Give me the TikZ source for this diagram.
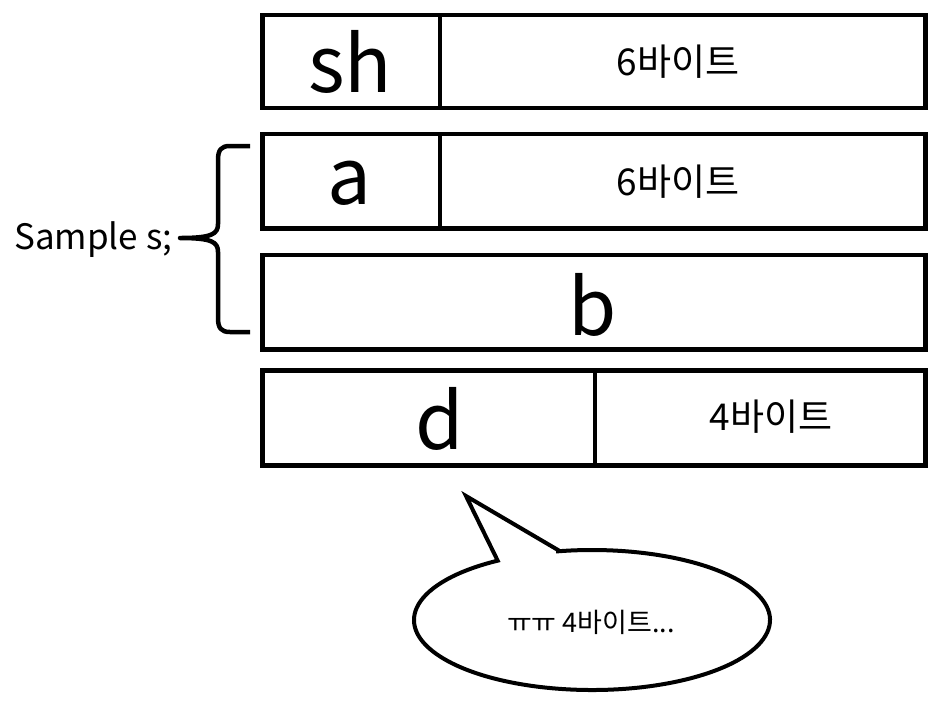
\documentclass[tikz,border=0pt]{standalone}
\usepackage{fontspec}
\setmainfont{Noto Sans CJK KR}
\begin{document}
\begin{tikzpicture}[x=1pt,y=-1pt,
  cell/.style={draw, line width=4.5pt, rectangle, inner sep=0pt, minimum height=#1},
  cell/.default=94pt,
  big/.style={font=\fontsize{78}{80}\selectfont, anchor=base, inner sep=0pt},
  kor/.style={font=\fontsize{37}{40}\selectfont, anchor=center, inner sep=0pt},
  small/.style={font=\fontsize{27}{30}\selectfont, anchor=center, inner sep=0pt},
  lbl/.style={font=\fontsize{35}{38}\selectfont, anchor=base west, inner sep=0pt}]
\useasboundingbox (0,0) rectangle (939,705);

% row 1
\node[cell=93pt, minimum width=177.5pt] (shcell) at (351.25,61.5) {};
\node[cell=93pt, minimum width=485.5pt] (pad1) at (682.75,61.5) {};
% row 2
\node[cell=94.5pt, minimum width=177.5pt] (acell) at (351.25,181.25) {};
\node[cell=94.5pt, minimum width=485.5pt] (pad2) at (682.75,181.25) {};
% row 3
\node[cell=94.5pt, minimum width=663pt] (bcell) at (594,302.25) {};
% row 4
\node[cell=95pt, minimum width=332.5pt] (dcell) at (428.75,418) {};
\node[cell=95pt, minimum width=330.5pt] (pad4) at (760.25,418) {};

% labels
\node[big] (sh) at (350,92) {sh};
\node[big] (a) at (349,204) {a};
\node[big] (b) at (593,335) {b};
\node[big] (d) at (440,449) {d};
\node[kor] (p1) at (678,62) {6바이트};
\node[kor] (p2) at (678,182) {6바이트};
\node[kor] (p4) at (771,417) {4바이트};
\node[lbl] (sample) at (14,249) {Sample s;};

% brace
\draw[line width=4.5pt, line cap=butt, line join=round]
  (250,146) -- (230,146) .. controls (221,146) and (218,150) .. (218,160)
  -- (218,224) .. controls (218,234) and (212,238) .. (180,238)
  .. controls (212,238) and (218,242) .. (218,252)
  -- (218,318) .. controls (218,328) and (221,332) .. (230,332) -- (250,332);

% speech bubble
\draw[line width=4pt, fill=white, line join=miter]
  (558,550) -- (466,496) -- ([shift={(592,620)}]-122:178 and 70)
  arc[start angle=-122, end angle=-461, x radius=178, y radius=70] -- cycle;
\node[small] (bubble) at (591,622) {ㅠㅠ 4바이트...};
\end{tikzpicture}
\end{document}
